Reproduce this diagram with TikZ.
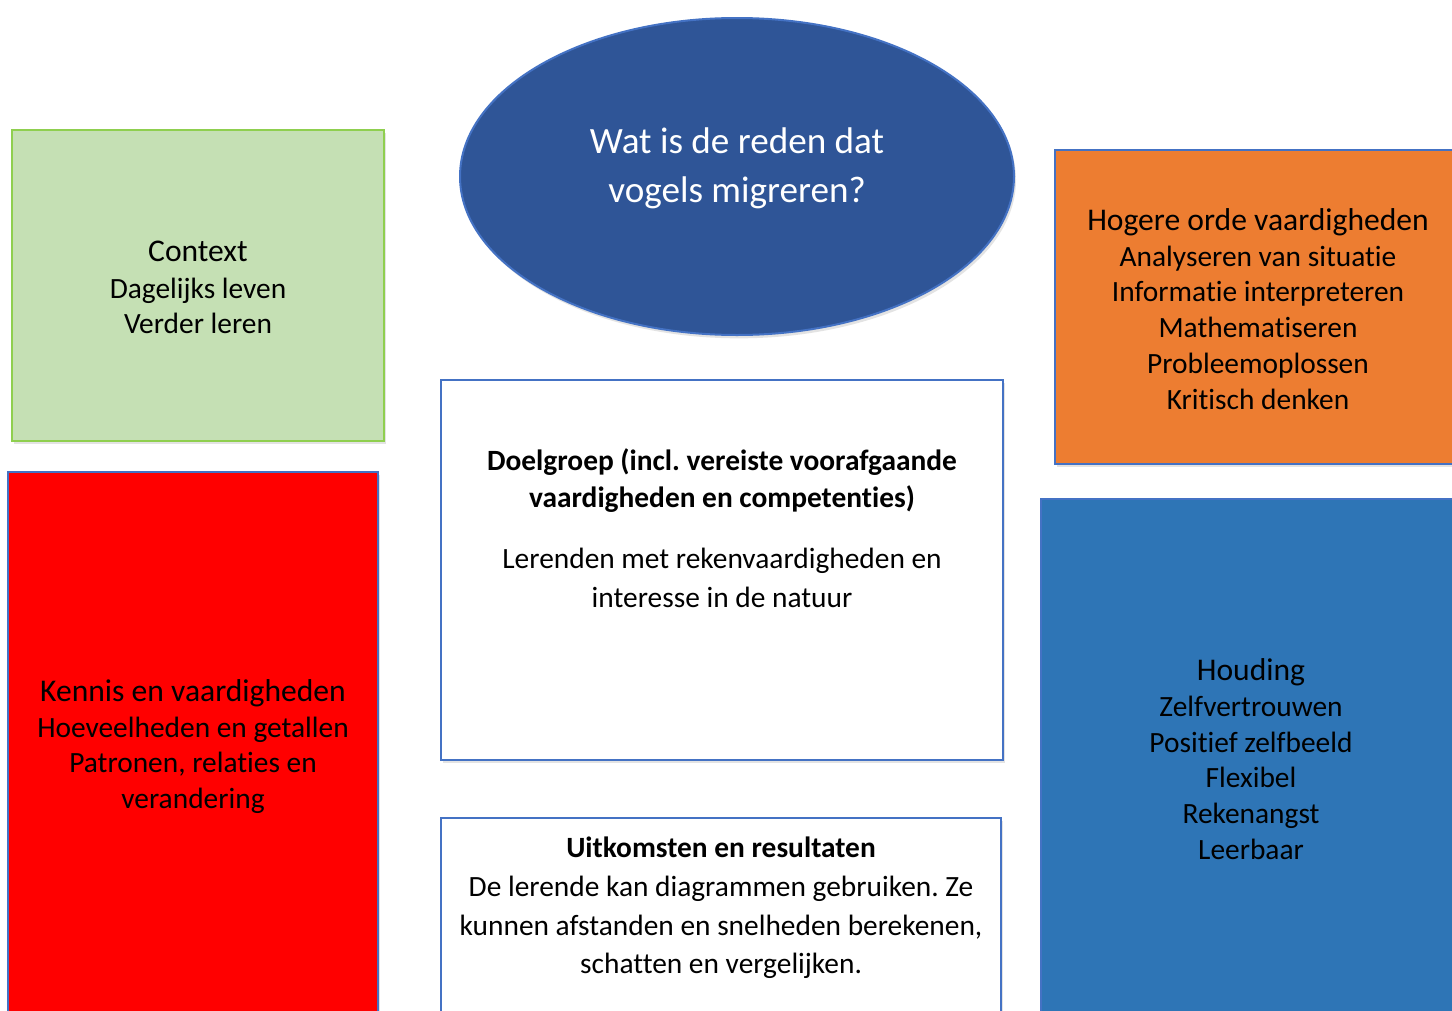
\documentclass[tikz,border=0pt]{standalone}
\usepackage{fontspec}
\setmainfont[Ligatures={NoCommon,TeX}]{Carlito}
\frenchspacing
\usetikzlibrary{shadows,shapes.geometric}
\definecolor{ctxfill}{HTML}{C5E0B4}
\definecolor{ctxline}{HTML}{8FCF4F}
\definecolor{boxline}{HTML}{4472C4}
\definecolor{kenfill}{HTML}{FF0000}
\definecolor{hogfill}{HTML}{ED7D31}
\definecolor{houfill}{HTML}{2E75B6}
\definecolor{ovlfill}{HTML}{2F5597}
\tikzset{
  box/.style={rectangle, draw=boxline, line width=1.5pt, inner sep=0pt,
    drop shadow={opacity=0.22, shadow xshift=1.5pt, shadow yshift=-2.5pt}},
  ln/.style={inner sep=0pt, anchor=base, font=\fontsize{22.05}{26}\selectfont},
  ttl/.style={inner sep=0pt, anchor=base, font=\fontsize{23.7}{28}\selectfont},
  bln/.style={inner sep=0pt, anchor=base, font=\fontsize{22.05}{26}\selectfont\bfseries},
  qln/.style={inner sep=0pt, anchor=base, text=white, font=\fontsize{27.85}{33}\selectfont}
}
\begin{document}
\begin{tikzpicture}[x=0.75pt,y=-0.75pt]
\useasboundingbox (0,0) rectangle (1452,1010);
\clip (0,0) rectangle (1452,1010);
\fill[white] (0,0) rectangle (1452,1010);

% boxes
\node[box, draw=ctxline, fill=ctxfill, minimum width=279pt, minimum height=233.25pt] (ctx) at (198,285.5) {};
\node[box, fill=kenfill, minimum width=277.5pt, minimum height=426pt] (ken) at (193,756) {};
\node[box, fill=white, minimum width=421.5pt, minimum height=285pt] (doel) at (722,570) {};
\node[box, fill=white, minimum width=420pt, minimum height=166.5pt] (uit) at (721,929) {};
\node[box, fill=hogfill, minimum width=318.75pt, minimum height=235.5pt] (hog) at (1267.5,307) {};
\node[box, fill=houfill, minimum width=329.25pt, minimum height=405.75pt] (hou) at (1260.5,769.5) {};
\node[box, ellipse, fill=ovlfill, minimum width=415.5pt, minimum height=237.75pt] (vraag) at (737,176.5) {};

% question
\node[qln] (q1) at (737,153) {Wat is de reden dat};
\node[qln] (q2) at (737,202) {vogels migreren?};

% context
\node[ttl] (c1) at (198,261) {Context};
\node[ln] (c2) at (198,298) {Dagelijks leven};
\node[ln] (c3) at (198,333) {Verder leren};

% kennis
\node[ttl] (k1) at (193,701) {Kennis en vaardigheden};
\node[ln] (k2) at (193,737) {Hoeveelheden en getallen};
\node[ln] (k3) at (193,772) {Patronen, relaties en};
\node[ln] (k4) at (193,808) {verandering};

% doelgroep
\node[bln] (d1) at (722,470) {Doelgroep (incl. vereiste voorafgaande};
\node[bln] (d2) at (722,507) {vaardigheden en competenties)};
\node[ln] (d3) at (722,568) {Lerenden met rekenvaardigheden en};
\node[ln] (d4) at (722,607) {interesse in de natuur};

% uitkomsten
\node[bln] (u1) at (721,857) {Uitkomsten en resultaten};
\node[ln] (u2) at (721,896) {De lerende kan diagrammen gebruiken. Ze};
\node[ln] (u3) at (721,935) {kunnen afstanden en snelheden berekenen,};
\node[ln] (u4) at (721,973) {schatten en vergelijken.};

% hogere orde
\node[ttl] (h1) at (1258,230) {Hogere orde vaardigheden};
\node[ln] (h2) at (1258,266) {Analyseren van situatie};
\node[ln] (h3) at (1258,301) {Informatie interpreteren};
\node[ln] (h4) at (1258,337) {Mathematiseren};
\node[ln] (h5) at (1258,373) {Probleemoplossen};
\node[ln] (h6) at (1258,409) {Kritisch denken};

% houding
\node[ttl] (o1) at (1251,680) {Houding};
\node[ln] (o2) at (1251,716) {Zelfvertrouwen};
\node[ln] (o3) at (1251,752) {Positief zelfbeeld};
\node[ln] (o4) at (1251,787) {Flexibel};
\node[ln] (o5) at (1251,823) {Rekenangst};
\node[ln] (o6) at (1251,859) {Leerbaar};
\end{tikzpicture}
\end{document}
